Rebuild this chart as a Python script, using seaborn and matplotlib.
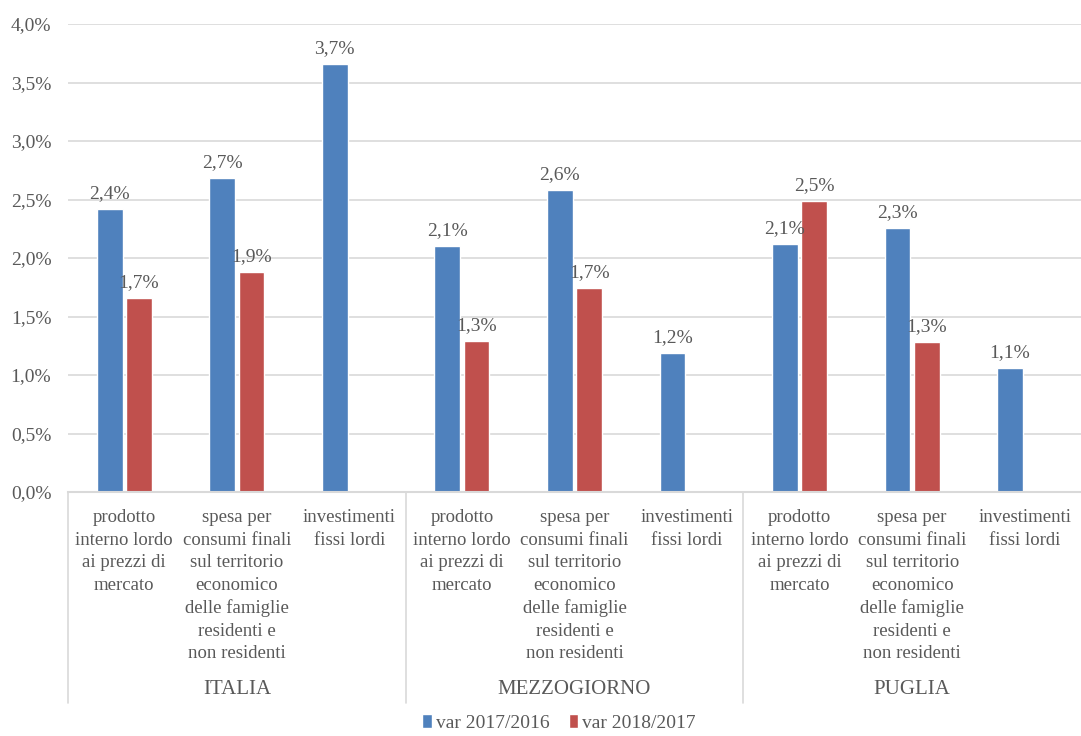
import numpy as np
import pandas as pd
import seaborn as sns
import matplotlib.pyplot as plt
from matplotlib.patches import Patch

# --- Dati ---
REGIONI = ["ITALIA", "MEZZOGIORNO", "PUGLIA"]
INDICATORI = [
    "prodotto\ninterno lordo\nai prezzi di\nmercato",
    "spesa per\nconsumi finali\nsul territorio\neconomico\ndelle famiglie\nresidenti e\nnon residenti",
    "investimenti\nfissi lordi",
]
SERIE = ["var 2017/2016", "var 2018/2017"]
VAR_2017_2016 = [2.42, 2.68, 3.66, 2.10, 2.58, 1.19, 2.12, 2.26, 1.06]
VAR_2018_2017 = [1.66, 1.88, np.nan, 1.29, 1.74, np.nan, 2.49, 1.28, np.nan]

BLU = "#4F81BD"
ROSSO = "#C0504D"
GRIGIO = "#595959"
GRIGLIA = "#D9D9D9"

# tabella lunga per seaborn
chiavi = [f"{r}|{i}" for r in REGIONI for i in range(len(INDICATORI))]
df = pd.DataFrame({
    "chiave": chiavi * 2,
    "valore": VAR_2017_2016 + VAR_2018_2017,
    "serie": [SERIE[0]] * len(chiavi) + [SERIE[1]] * len(chiavi),
})

sns.set_theme(style="white")
plt.rcParams["font.family"] = ["Liberation Serif", "DejaVu Serif"]

fig = plt.figure(figsize=(10.81, 7.36), dpi=100)
ax = fig.add_axes([68 / 1081, 1 - 492 / 736, 1 - 68 / 1081, (492 - 24) / 736])

sns.barplot(
    data=df, x="chiave", y="valore", hue="serie",
    order=chiavi, hue_order=SERIE, palette=[BLU, ROSSO], saturation=1,
    width=0.52, gap=0.12, errorbar=None, legend=False, ax=ax,
)

# etichette sui valori
for cont in ax.containers:
    for barra in cont:
        h = barra.get_height()
        if np.isnan(h) or h == 0:
            continue
        ax.annotate(
            f"{h:.1f}%".replace(".", ","),
            (barra.get_x() + barra.get_width() / 2, h),
            xytext=(0, 5), textcoords="offset points",
            ha="center", va="bottom", fontsize=14, color=GRIGIO,
        )

# asse y
ax.set_ylim(0, 4)
ax.set_yticks(np.arange(0, 4.01, 0.5))
ax.set_yticklabels([f"{v:.1f}%".replace(".", ",") for v in np.arange(0, 4.01, 0.5)],
                   fontsize=14, color=GRIGIO)
ax.tick_params(axis="y", length=0, pad=12)
ax.yaxis.grid(True, color=GRIGLIA, linewidth=1.2)
ax.set_axisbelow(True)
ax.set_ylabel("")
ax.set_xlabel("")

for lato in ["left", "right", "top"]:
    ax.spines[lato].set_visible(False)
ax.spines["bottom"].set_color(GRIGLIA)
ax.spines["bottom"].set_linewidth(1.5)

# etichette categorie a due livelli
ax.set_xticks([])
ax.set_xlim(-0.5, len(chiavi) - 0.5)
trans = ax.get_xaxis_transform()
for k, chiave in enumerate(chiavi):
    ax.text(k, -0.037, INDICATORI[k % 3], transform=trans, ha="center", va="top",
            fontsize=13.5, color=GRIGIO, linespacing=1.42)
for g, reg in enumerate(REGIONI):
    ax.text(g * 3 + 1, -0.422, reg, transform=trans, ha="center", va="center",
            fontsize=15, color=GRIGIO)
for sep in [-0.5, 2.5, 5.5]:
    ax.plot([sep, sep], [0, -0.451], transform=trans, color=GRIGLIA,
            linewidth=1.2, clip_on=False)

# legenda
maniglie = [Patch(facecolor=BLU, label=SERIE[0]), Patch(facecolor=ROSSO, label=SERIE[1])]
leg = fig.legend(handles=maniglie, loc="lower center", bbox_to_anchor=(0.517, -0.018),
                 ncol=2, frameon=False, fontsize=14, handlelength=0.5,
                 handleheight=0.8, handletextpad=0.2, columnspacing=1.0)
for t in leg.get_texts():
    t.set_color(GRIGIO)

fig.savefig("out.png", dpi=100)
